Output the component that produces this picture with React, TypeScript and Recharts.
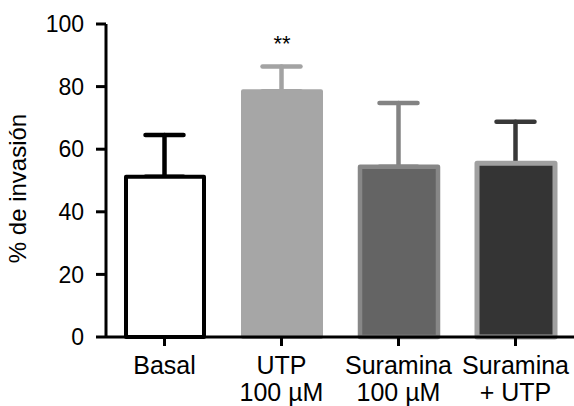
import { ComposedChart, Bar, Line, Cell, XAxis, YAxis, ErrorBar, LabelList } from 'recharts';

const categories = ['Basal', 'UTP\n100 µM', 'Suramina\n100 µM', 'Suramina\n+ UTP'];
const invasion = [51.2, 78.5, 54.4, 55.5];
const errorUp = [13.3, 7.9, 20.4, 13.3];
const significance = ['', '**', '', ''];
const yTicks = [0, 20, 40, 60, 80, 100];

const fills = ['#ffffff', '#a6a6a6', '#646464', '#343434'];
const strokes = ['#000000', '#a6a6a6', '#878787', '#a0a0a0'];
const strokeWidths = [4, 4, 4.5, 5];
const errColors = ['#000000', '#a3a3a3', '#838383', '#383838'];

const FONT = '"Liberation Sans", Arial, sans-serif';

// one error key per bar so each whisker can have its own colour
const data = categories.map((name, i) => {
  const row: any = { name, value: invasion[i], sig: significance[i] };
  categories.forEach((_, j) => {
    row[`err${j}`] = i === j ? [0, errorUp[i]] : null;
  });
  return row;
});

function CategoryTick({ x, y, payload }: any) {
  const lines = String(payload.value).split('\n');
  return (
    <text x={x} y={y} textAnchor="middle" fontSize={25} fill="#000" fontFamily={FONT}>
      {lines.map((line, i) => (
        <tspan key={i} x={x} dy={i === 0 ? 17 : 27}>
          {line}
        </tspan>
      ))}
    </text>
  );
}

function AxisTitle({ viewBox }: any) {
  const cx = viewBox.x + 26;
  const cy = viewBox.y + viewBox.height / 2 + 8;
  return (
    <text
      x={cx}
      y={cy}
      transform={`rotate(-90, ${cx}, ${cy})`}
      textAnchor="middle"
      fontSize={24}
      fill="#000"
      fontFamily={FONT}
    >
      % de invasión
    </text>
  );
}

export default function App() {
  return (
    <div style={{ position: 'absolute', left: 0, top: 0, background: '#fff' }}>
      <ComposedChart
        width={574}
        height={406}
        data={data}
        margin={{ top: 24, right: 0, left: 0, bottom: 0 }}
      >
        <XAxis
          dataKey="name"
          height={69}
          interval={0}
          tick={<CategoryTick />}
          tickSize={9}
          tickMargin={11}
          axisLine={{ stroke: '#000', strokeWidth: 3 }}
          tickLine={{ stroke: '#000', strokeWidth: 3 }}
        />
        <YAxis
          width={106}
          domain={[0, 100]}
          ticks={yTicks}
          tickSize={10}
          tickMargin={12}
          axisLine={{ stroke: '#000', strokeWidth: 3 }}
          tickLine={{ stroke: '#000', strokeWidth: 3 }}
          tick={{ fontSize: 23, fill: '#000', fontFamily: FONT }}
          label={AxisTitle}
        />
        {/* invisible line carrying the whiskers, drawn under the bars */}
        <Line
          dataKey="value"
          stroke="none"
          dot={false}
          activeDot={false}
          isAnimationActive={false}
          zIndex={100}
        >
          {categories.map((_, j) => (
            <ErrorBar
              key={j}
              dataKey={`err${j}`}
              direction="y"
              width={19}
              stroke={errColors[j]}
              strokeWidth={4.5}
              strokeLinecap="round"
              zIndex={100}
            />
          ))}
        </Line>
        <Bar dataKey="value" barSize={78} isAnimationActive={false}>
          {data.map((_, i) => (
            <Cell
              key={i}
              fill={fills[i]}
              stroke={strokes[i]}
              strokeWidth={strokeWidths[i]}
              strokeLinejoin="round"
            />
          ))}
          <LabelList
            dataKey="sig"
            position="top"
            offset={40}
            fontSize={22}
            fill="#000"
            fontFamily={FONT}
          />
        </Bar>
      </ComposedChart>
    </div>
  );
}
